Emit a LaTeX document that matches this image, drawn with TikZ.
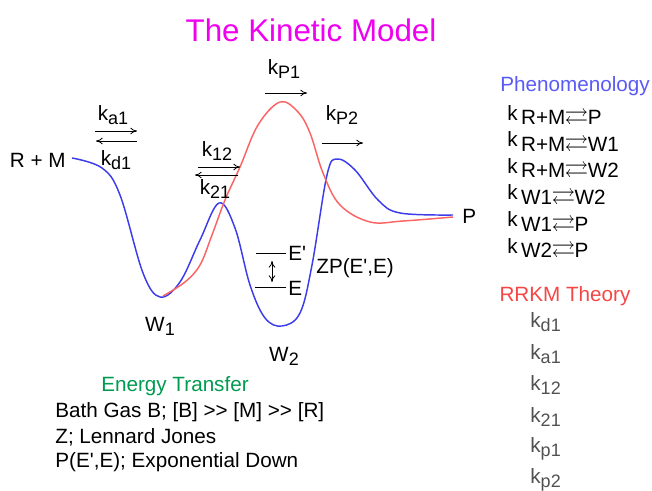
\documentclass[tikz,border=0pt]{standalone}
\usepackage{fontspec}
\usepackage{amssymb}
\setmainfont{Liberation Sans}
\usetikzlibrary{positioning, arrows.meta}

\definecolor{curveblue}{RGB}{60,60,235}
\definecolor{curvered}{RGB}{250,100,100}
\definecolor{titlemag}{RGB}{240,0,240}
\definecolor{phenblue}{RGB}{90,90,245}
\definecolor{rrkmred}{RGB}{245,70,70}
\definecolor{etgreen}{RGB}{0,155,80}
\definecolor{rategray}{RGB}{80,80,80}

\newcommand{\lo}[1]{\raisebox{-3pt}{\fontsize{13.5}{14}\selectfont #1}}
\newcommand{\rxn}[1]{k\,\raisebox{-3.5pt}{#1}}
\newcommand{\eqm}{\kern-0.5pt\scalebox{1.15}{$\rightleftarrows$}\kern-0.5pt}
\newcommand{\prm}{\textquotesingle}
\newcommand{\muchgt}{>\kern0pt>}

\begin{document}
\begin{tikzpicture}[x=0.75pt, y=-0.75pt, >={To[length=5pt,width=5pt]}, line width=0.6pt,
    txt/.style={font=\fontsize{15.5}{18}\selectfont, inner sep=0pt},
    ttl/.style={font=\fontsize{23.5}{28}\selectfont, inner sep=0pt, text=titlemag},
    surface/.style={line width=1.1pt}]

\useasboundingbox (0,0) rectangle (652,491);

% Titel
\node[ttl] (title) at (311,30) {The Kinetic Model};

% Potenzialflaechen
\draw[surface, curveblue] plot[smooth, tension=0.6] coordinates {
    (72,158) (102,168) (120,195) (143,273) (160,297) (180,282) (200,240)
    (219,203) (235,228) (250,285) (265,318) (282,326) (300,313) (312,265)
    (327,175) (337,159) (355,170) (378,200) (400,213) (453,215)};
\draw[surface, curvered] plot[smooth, tension=0.6] coordinates {
    (163,296) (185,282) (200,265) (212,235) (225,200) (240,167) (258,125)
    (280,102) (298,112) (310,133) (323,173) (340,205) (370,222) (403,221)
    (453,217)};

% Zustaende
\node[txt, anchor=east] (rm) at (66,160) {R + M};
\node[txt, anchor=west] (prod) at (462,216) {P};
\node[txt] (wone) at (160,326) {W\lo{1}};
\node[txt] (wtwo) at (284,356) {W\lo{2}};

% Ratenkonstanten mit Pfeilen
\node[txt] (ka) at (113,115) {k\lo{a1}};
\node[txt] (kd) at (116,160) {k\lo{d1}};
\coordinate (kaL) at (95,131);  \coordinate (kaR) at (137,131);
\coordinate (kdL) at (96,141);  \coordinate (kdR) at (137,141);
\draw[->] (kaL) -- (kaR);
\draw[->] (kdR) -- (kdL);

\node[txt] (kot) at (217,151) {k\lo{12}};
\node[txt] (kto) at (215,189) {k\lo{21}};
\coordinate (kotL) at (198,167); \coordinate (kotR) at (240,167);
\coordinate (ktoL) at (195,175); \coordinate (ktoR) at (238,175);
\draw[->] (kotL) -- (kotR);
\draw[->] (ktoR) -- (ktoL);

\node[txt] (kpa) at (284,69) {k\lo{P1}};
\coordinate (kpaL) at (265,93); \coordinate (kpaR) at (307,93);
\draw[->] (kpaL) -- (kpaR);

\node[txt] (kpb) at (342,115) {k\lo{P2}};
\coordinate (kpbL) at (322,143); \coordinate (kpbR) at (363,143);
\draw[->] (kpbL) -- (kpbR);

% Energieniveaus im Topf W2
\coordinate (epL) at (256,253); \coordinate (epR) at (286,253);
\coordinate (eL) at (255,287);  \coordinate (eR) at (286,287);
\draw (epL) -- (epR);
\draw (eL) -- (eR);
\node[txt, anchor=west] (eprime) at (288,253) {E\prm};
\node[txt, anchor=west] (elev) at (288,288) {E};
\coordinate (zpT) at (272,261); \coordinate (zpB) at (272,282);
\draw[<->] (zpT) -- (zpB);
\node[txt, anchor=west] (zp) at (316,268) {ZP(E\prm,E)};

% Phaenomenologie
\node[txt, text=phenblue] (phen) at (575,86) {Phenomenology};
\foreach \r [count=\i] in {{R+M\eqm P}, {R+M\eqm W1}, {R+M\eqm W2},
                           {W1\eqm W2}, {W1\eqm P}, {W2\eqm P}}
    \node[txt, anchor=west] (ph\i) at (507,90.4+26.6*\i) {\rxn{\r}};

% RRKM
\node[txt, text=rrkmred] (rrkm) at (565,296) {RRKM Theory};
\foreach \s [count=\i] in {d1, a1, 12, 21, p1, p2}
    \node[txt, anchor=west, text=rategray] (rk\i) at (530,290.4+31.6*\i) {k\lo{\s}};

% Energietransfer
\node[txt, text=etgreen] (et) at (175,386) {Energy Transfer};
\node[txt, anchor=west] (bath) at (55,412) {Bath Gas B; [B] \muchgt{} [M] \muchgt{} [R]};
\node[txt, anchor=west] (lj) at (55,437) {Z; Lennard Jones};
\node[txt, anchor=west] (pdown) at (55,462) {P(E\prm,E); Exponential Down};

\end{tikzpicture}
\end{document}
